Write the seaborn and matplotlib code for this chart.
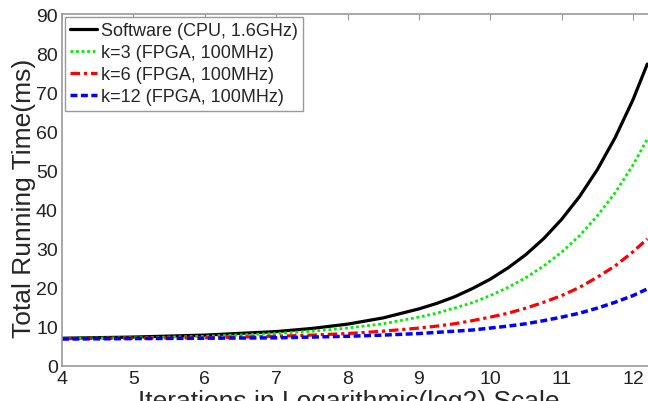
import seaborn as sns
import matplotlib
matplotlib.use('Agg')
import matplotlib.pyplot as plt

# iterations (log2) and running times
iters = [4, 5, 6, 7, 7.5, 8, 8.5, 9, 9.25, 9.5, 9.75, 10, 10.25, 10.5,
         10.75, 11, 11.25, 11.5, 11.75, 12, 12.2]
software = [7.1, 7.4, 7.9, 8.8, 9.6, 10.7, 12.3, 14.6, 16.0, 17.7, 19.8, 22.2,
            25.1, 28.5, 32.6, 37.5, 43.3, 50.2, 58.4, 68.1, 77.2]
k3 = [7.1, 7.2, 7.6, 8.3, 8.9, 9.7, 10.8, 12.5, 13.5, 14.8, 16.2, 18.0,
      20.1, 22.6, 25.6, 29.1, 33.3, 38.4, 44.3, 51.4, 58.0]
k6 = [7.0, 7.1, 7.2, 7.6, 7.9, 8.3, 8.9, 9.7, 10.2, 10.8, 11.6, 12.5,
      13.5, 14.8, 16.3, 18.0, 20.1, 22.7, 25.6, 29.2, 32.5]
k12 = [6.9, 7.0, 7.1, 7.2, 7.4, 7.6, 7.9, 8.3, 8.6, 8.9, 9.2, 9.7,
       10.2, 10.8, 11.6, 12.5, 13.5, 14.8, 16.3, 18.0, 19.7]
xticks = [4, 5, 6, 7, 8, 9, 10, 11, 12]
yticks = [0, 10, 20, 30, 40, 50, 60, 70, 80, 90]

sns.set_style('white')
plt.rcParams['font.family'] = ['Liberation Sans', 'DejaVu Sans']

fig = plt.figure(figsize=(6.48, 4.02), dpi=100)
ax = fig.add_axes([62 / 648, 1 - 367 / 402, 1 - 62 / 648, 352 / 402])

sns.lineplot(x=iters, y=software, ax=ax, color='black', lw=2.3, linestyle='-',
             label='Software (CPU, 1.6GHz)')
sns.lineplot(x=iters, y=k3, ax=ax, color='#00f000', lw=2.0,
             linestyle=(0, (1, 1)), label='k=3 (FPGA, 100MHz)')
sns.lineplot(x=iters, y=k6, ax=ax, color='#ff0000', lw=2.3,
             linestyle=(0, (3, 1.2, 1, 1.2)), label='k=6 (FPGA, 100MHz)')
sns.lineplot(x=iters, y=k12, ax=ax, color='#0000ff', lw=2.5,
             linestyle=(0, (2, 1)), label='k=12 (FPGA, 100MHz)')

ax.set_xlim(4, 12.21)
ax.set_ylim(0, 90)
ax.set_xticks(xticks)
ax.set_yticks(yticks)
ax.tick_params(axis='both', direction='in', length=4, color='#999999',
               labelsize=14, labelcolor='#222222', top=True, pad=3)
for side in ['left', 'bottom', 'top']:
    ax.spines[side].set_color('#999999')
    ax.spines[side].set_linewidth(1.2)
ax.spines['right'].set_visible(False)

ax.set_xlabel('Iterations in Logarithmic(log2) Scale', fontsize=19, va='top')
ax.xaxis.set_label_coords(0.49, -0.064)
ax.set_ylabel('Total Running Time(ms)', fontsize=19)
ax.yaxis.set_label_coords(-0.045, 0.48)

leg = ax.legend(loc='upper left', fontsize=13, frameon=True, fancybox=False,
                handlelength=1.5, handletextpad=0.2, labelspacing=0.28,
                borderpad=0.3, borderaxespad=0.15, framealpha=1)
leg.get_frame().set_edgecolor('#999999')
leg.get_frame().set_linewidth(1.0)

fig.savefig('out.png', dpi=100)
